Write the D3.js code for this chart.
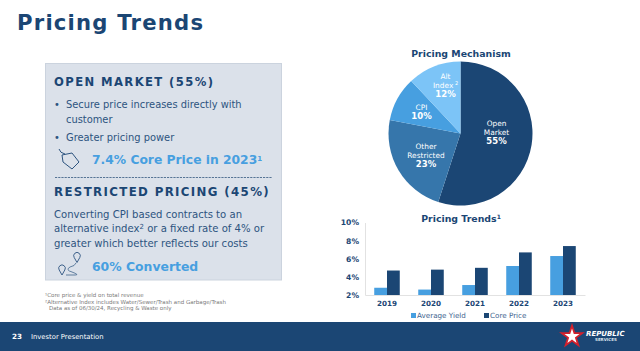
<!DOCTYPE html>
<html>
<head>
<meta charset="utf-8">
<script src="https://cdn.jsdelivr.net/npm/d3@7"></script>
<style>
    html, body { margin: 0; padding: 0; background: #fff; }
    svg { display: block; }
    text { font-family: "DejaVu Sans", Verdana, sans-serif; }
</style>
</head>
<body>
<div id="chart"></div>
<script>
// pie data
const mechanismNames = [["Open", "Market"], ["Other", "Restricted"], ["CPI"], ["Alt", "Index"]];
const mechanismValues = [55, 23, 10, 12];
const mechanismColors = ["#1b4674", "#3676ab", "#479fe0", "#7cc4f7"];

// bar data
const years = ["2019", "2020", "2021", "2022", "2023"];
const averageYield = [2.8, 2.6, 3.1, 5.2, 6.3];
const corePrice = [4.7, 4.8, 5.0, 6.7, 7.4];
const yTicks = [2, 4, 6, 8, 10];

const navy = "#1b4674";
const blue = "#479fe0";

const svg = d3.select("#chart").append("svg")
    .attr("width", 640)
    .attr("height", 351);

function label(parent, x, y, str, size, color, weight, anchor) {
    return parent.append("text")
        .attr("x", x)
        .attr("y", y)
        .attr("font-size", size)
        .attr("fill", color)
        .attr("font-weight", weight || "normal")
        .attr("text-anchor", anchor || "start")
        .text(str);
}

function sup(textSel, str, size) {
    textSel.append("tspan")
        .attr("dy", -size * 0.45)
        .attr("font-size", size)
        .text(str);
}

// title
label(svg, 17, 30, "Pricing Trends", 21.2, navy, "bold").attr("letter-spacing", 1.2);

// left panel
svg.append("rect")
    .attr("x", 45.5).attr("y", 63.5)
    .attr("width", 236).attr("height", 216.5)
    .attr("fill", "#dbe1ea")
    .attr("stroke", "#cbd3de");

label(svg, 54, 86, "OPEN MARKET (55%)", 11.6, navy, "bold").attr("letter-spacing", 1.4);
label(svg, 54, 108, "•", 9.9, "#2d5480");
label(svg, 66, 108, "Secure price increases directly with", 9.9, "#2d5480");
label(svg, 66, 122.5, "customer", 9.9, "#2d5480");
label(svg, 54, 141, "•", 9.9, "#2d5480");
label(svg, 66, 141, "Greater pricing power", 9.9, "#2d5480");

// tag icon
const tag = svg.append("g").attr("fill", "none").attr("stroke", "#2d5480").attr("stroke-width", 1);
tag.append("path").attr("d", "M62 155L72 153L79 162L72 169L63 162Z");
tag.append("path").attr("d", "M59 149Q60 153 65 154");

const corePriceText = label(svg, 92, 164, "7.4% Core Price in 2023", 12.3, blue, "bold");
sup(corePriceText, "1", 7);

svg.append("line")
    .attr("x1", 55).attr("x2", 272)
    .attr("y1", 177.5).attr("y2", 177.5)
    .attr("stroke", "#33587f")
    .attr("stroke-width", 0.8)
    .attr("stroke-dasharray", "2.2,1");

label(svg, 54, 195.5, "RESTRICTED PRICING (45%)", 11.8, navy, "bold").attr("letter-spacing", 1.35);
label(svg, 54, 217.5, "Converting CPI based contracts to an", 10.1, "#2d5480");
const altLine = label(svg, 54, 232, "alternative index", 10.1, "#2d5480");
sup(altLine, "2", 7);
altLine.append("tspan").attr("dy", 3.15).text(" or a fixed rate of 4% or");
label(svg, 54, 246.5, "greater which better reflects our costs", 10.1, "#2d5480");

// route icon
const route = svg.append("g").attr("fill", "none").attr("stroke", "#2d5480").attr("stroke-width", 0.9);
route.append("path").attr("d", "M77 262.5L74.2 257.5A3.3 3.3 0 1 1 79.8 257.5Z");
route.append("path").attr("d", "M62 275L59.2 270A3.3 3.3 0 1 1 64.8 270Z");
route.append("path").attr("d", "M76 263Q75 266 70 267Q65 270 72 272Q80 275 75 275L66 275").attr("stroke-width", 0.7);

label(svg, 92, 271, "60% Converted", 12.4, blue, "bold");

// footnotes
const noteColor = "#7a7a7a";
label(svg, 45, 297, "¹Core price & yield on total revenue", 5.5, noteColor);
label(svg, 45, 303.5, "²Alternative Index includes Water/Sewer/Trash and Garbage/Trash", 5.5, noteColor);
label(svg, 49, 310, "Data as of 06/30/24, Recycling & Waste only", 5.5, noteColor);

// pie
const pieG = svg.append("g").attr("transform", "translate(460.5,133.5)");
const radius = 72;
const pie = d3.pie().sort(null)(mechanismValues);
const arc = d3.arc().innerRadius(0).outerRadius(radius);

pieG.selectAll("path")
    .data(pie)
    .join("path")
    .attr("d", arc)
    .attr("fill", (d, i) => mechanismColors[i]);

label(svg, 461, 56.5, "Pricing Mechanism", 9.4, navy, "bold", "middle");

// label anchors relative to pie centre, name line 1 baseline
const labelAnchor = [[36, -8], [-34.5, 15], [-39, -24], [-15, -55]];
pie.forEach((d, i) => {
    const lines = mechanismNames[i];
    const cx = labelAnchor[i][0];
    const top = labelAnchor[i][1];
    lines.forEach((line, j) => {
        const t = label(pieG, cx, top + j * 9, line, 7.4, "#fff", "normal", "middle");
        if (line === "Index") sup(t, " 2", 5);
    });
    label(pieG, cx, top + lines.length * 9 + 0.8, d.data + "%", 8.5, "#fff", "bold", "middle");
});

// bars
const margin = {left: 365, right: 55, top: 222.5, bottom: 56};
const plotW = 640 - margin.left - margin.right;
const plotH = 351 - margin.top - margin.bottom;
const barG = svg.append("g").attr("transform", "translate(" + margin.left + "," + margin.top + ")");

const x = d3.scaleBand().domain(years).range([0, plotW]).paddingInner(0.42).paddingOuter(0.21);
const y = d3.scaleLinear().domain([2, 10]).range([plotH, 0]);
const bw = x.bandwidth() / 2;

barG.selectAll("rect.yield")
    .data(averageYield)
    .join("rect")
    .attr("class", "yield")
    .attr("x", (d, i) => x(years[i]))
    .attr("y", d => y(d))
    .attr("width", bw)
    .attr("height", d => plotH - y(d))
    .attr("fill", blue);

barG.selectAll("rect.core")
    .data(corePrice)
    .join("rect")
    .attr("class", "core")
    .attr("x", (d, i) => x(years[i]) + bw)
    .attr("y", d => y(d))
    .attr("width", bw)
    .attr("height", d => plotH - y(d))
    .attr("fill", navy);

const yAxis = barG.append("g")
    .call(d3.axisLeft(y).tickValues(yTicks).tickFormat(d => d + "%").tickSize(0).tickPadding(6));
yAxis.select(".domain").attr("stroke", "#e2e2e2");
yAxis.selectAll("text")
    .attr("font-size", 7.6).attr("font-weight", "bold").attr("fill", navy)
    .style("font-family", '"DejaVu Sans", Verdana, sans-serif');

const xAxis = barG.append("g")
    .attr("transform", "translate(0," + plotH + ")")
    .call(d3.axisBottom(x).tickSize(0).tickPadding(6));
xAxis.select(".domain").attr("stroke", "#e2e2e2");
xAxis.selectAll("text")
    .attr("font-size", 7.2).attr("font-weight", "bold").attr("fill", navy)
    .style("font-family", '"DejaVu Sans", Verdana, sans-serif');

const barTitle = label(svg, 461, 222, "Pricing Trends", 9.4, navy, "bold", "middle");
sup(barTitle, "1", 6);

// legend
svg.append("rect").attr("x", 411).attr("y", 313).attr("width", 5).attr("height", 5).attr("fill", blue);
label(svg, 417, 318, "Average Yield", 7.2, "#3f6690");
svg.append("rect").attr("x", 484).attr("y", 313).attr("width", 5).attr("height", 5).attr("fill", navy);
label(svg, 490, 318, "Core Price", 7.2, "#3f6690");

// footer band
svg.append("rect").attr("x", 0).attr("y", 322).attr("width", 640).attr("height", 29).attr("fill", navy);
label(svg, 12, 339, "23", 7.2, "#fff", "bold");
label(svg, 31, 338.7, "Investor Presentation", 6.8, "#fff");

// logo
const logo = svg.append("g").attr("transform", "translate(572,336.5)");
const star = d3.symbol().type(d3.symbolStar);
logo.append("path").attr("d", star.size(210)()).attr("fill", "#d4202c");
logo.append("path").attr("d", star.size(70)()).attr("fill", "#fff");
logo.append("text").attr("x", 14).attr("y", -0.5)
    .attr("font-size", 7).attr("font-weight", "bold").attr("font-style", "italic").attr("fill", "#fff")
    .text("REPUBLIC");
logo.append("text").attr("x", 23).attr("y", 4.5)
    .attr("font-size", 4).attr("font-weight", "bold").attr("fill", "#dfe6ee")
    .text("SERVICES");
</script>
</body>
</html>
